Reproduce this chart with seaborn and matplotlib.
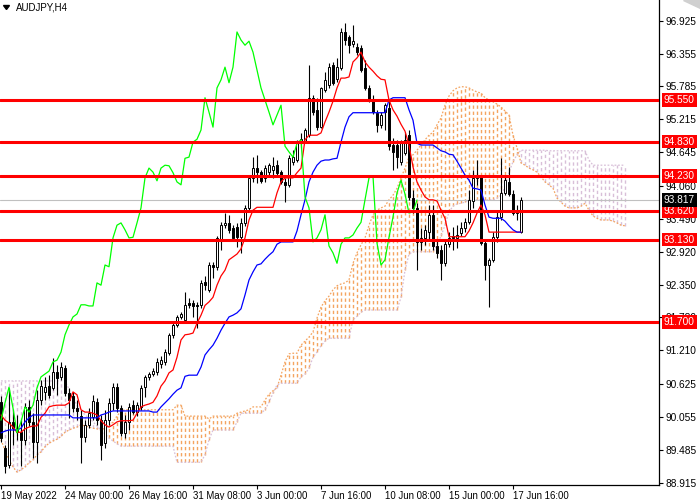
import numpy as np
import matplotlib
matplotlib.use("Agg")
import matplotlib.pyplot as plt
import seaborn as sns
from matplotlib.transforms import blended_transform_factory
from matplotlib.patches import Polygon

sns.set_theme(style="white")
plt.rcParams["font.family"] = ["Liberation Sans", "DejaVu Sans"]

# ---------------- data (AUDJPY H4) ----------------
opens = [90.31, 89.52, 89.22, 89.97, 89.86, 89.79, 89.66, 90.23, 89.97, 89.62,
         90.35, 90.49, 90.59, 90.56, 90.83, 90.75, 90.90, 90.47, 90.42, 90.21,
         90.07, 89.71, 89.92, 90.05, 90.31, 90.00, 89.60, 90.00, 90.30, 90.57,
         90.21, 89.78, 89.97, 90.26, 90.14, 90.23, 90.57, 90.75, 90.80, 90.83,
         90.97, 91.01, 91.16, 91.48, 91.65, 91.79, 91.74, 92.03, 92.03, 92.00,
         92.00, 92.40, 92.26, 92.69, 92.66, 93.12, 93.38, 93.42, 93.33, 93.35,
         93.17, 93.42, 93.68, 94.20, 94.37, 94.30, 94.20, 94.30, 94.34, 94.42,
         94.30, 94.13, 94.08, 94.48, 94.51, 94.82, 94.82, 94.94, 95.59, 95.38,
         95.08, 95.72, 95.81, 96.16, 95.91, 96.11, 96.73, 96.64, 96.52, 96.47,
         96.45, 96.11, 95.76, 95.55, 95.33, 95.12, 95.34, 95.41, 94.77, 94.77,
         94.48, 94.63, 94.94, 93.85, 93.68, 93.09, 93.16, 93.26, 93.56, 93.02,
         92.95, 92.72, 93.05, 93.19, 93.16, 93.24, 93.33, 93.43, 93.80, 94.20,
         94.22, 93.07, 92.69, 92.78, 93.17, 93.52, 93.94, 94.13, 93.92, 93.59,
         93.26]
highs = [90.42, 89.57, 90.56, 90.18, 90.09, 90.00, 90.30, 90.35, 90.12, 90.52,
         90.70, 90.74, 90.78, 91.08, 90.96, 91.01, 90.96, 90.56, 90.49, 90.35,
         90.18, 90.00, 90.21, 90.44, 90.38, 90.09, 90.18, 90.38, 90.64, 90.64,
         90.26, 90.09, 90.30, 90.35, 90.31, 90.61, 90.78, 90.83, 90.90, 91.08,
         91.11, 91.23, 91.51, 91.70, 91.82, 91.87, 92.22, 92.12, 92.08, 92.05,
         92.43, 92.50, 92.74, 92.74, 93.19, 93.44, 93.59, 93.56, 93.38, 93.42,
         93.50, 93.73, 94.23, 94.56, 94.60, 94.34, 94.42, 94.46, 94.56, 94.51,
         94.34, 94.20, 94.60, 94.68, 94.86, 94.98, 95.07, 96.16, 95.64, 95.59,
         95.78, 96.04, 96.19, 96.21, 96.28, 96.80, 96.89, 96.68, 96.85, 96.54,
         96.50, 96.24, 95.81, 95.64, 95.38, 95.34, 95.50, 95.55, 94.89, 94.86,
         94.86, 94.99, 95.03, 93.99, 93.76, 93.33, 93.38, 93.73, 93.73, 93.12,
         93.04, 93.12, 93.26, 93.35, 93.38, 93.44, 93.50, 93.99, 94.34, 94.51,
         94.25, 93.12, 92.81, 93.26, 93.61, 94.54, 94.22, 94.39, 93.99, 93.73,
         93.87]
lows = [89.62, 89.08, 89.17, 89.57, 89.66, 89.21, 89.57, 89.90, 89.34, 89.26,
        90.26, 90.35, 90.38, 90.52, 90.44, 90.70, 90.42, 90.04, 90.14, 90.00,
        89.26, 89.62, 89.86, 90.00, 89.92, 89.31, 89.52, 89.92, 90.18, 90.14,
        89.73, 89.69, 89.83, 90.11, 90.07, 90.18, 90.40, 90.70, 90.77, 90.78,
        90.90, 90.96, 91.13, 91.42, 91.61, 91.75, 91.70, 91.94, 91.79, 91.60,
        91.94, 92.26, 92.22, 92.46, 92.60, 92.95, 93.33, 93.24, 93.12, 93.00,
        92.90, 93.37, 93.64, 94.13, 94.11, 94.11, 94.13, 94.25, 94.20, 94.25,
        94.09, 93.78, 94.04, 94.42, 94.48, 94.72, 94.80, 94.91, 95.29, 95.03,
        95.07, 95.69, 95.76, 95.81, 95.86, 96.07, 96.50, 96.37, 96.47, 96.33,
        96.04, 95.72, 95.52, 95.31, 94.99, 95.07, 95.03, 94.68, 94.34, 94.37,
        94.42, 94.60, 93.82, 93.59, 92.60, 92.95, 93.04, 93.12, 92.95, 92.81,
        92.43, 92.67, 93.00, 92.95, 92.98, 93.19, 93.26, 93.40, 93.68, 94.08,
        93.04, 92.43, 91.96, 92.74, 93.09, 93.47, 93.90, 93.89, 93.56, 93.47,
        93.24]
closes = [89.69, 89.21, 89.97, 89.86, 89.79, 89.66, 90.23, 89.97, 89.62, 90.35,
          90.59, 90.57, 90.44, 90.83, 90.73, 90.92, 90.47, 90.35, 90.21, 90.16,
          89.71, 89.92, 90.12, 90.33, 90.00, 89.57, 90.00, 90.30, 90.57, 90.21,
          89.78, 89.97, 90.23, 90.14, 90.26, 90.56, 90.75, 90.80, 90.85, 91.01,
          91.04, 91.18, 91.48, 91.65, 91.79, 91.84, 92.00, 92.00, 91.98, 91.98,
          92.38, 92.34, 92.69, 92.66, 93.16, 93.38, 93.42, 93.30, 93.16, 93.17,
          93.42, 93.68, 94.20, 94.37, 94.30, 94.15, 94.37, 94.42, 94.41, 94.29,
          94.13, 94.08, 94.54, 94.56, 94.82, 94.87, 95.03, 95.59, 95.34, 95.08,
          95.76, 95.90, 96.12, 95.85, 96.12, 96.73, 96.59, 96.50, 96.57, 96.38,
          96.07, 95.76, 95.55, 95.34, 95.12, 95.29, 95.46, 94.75, 94.65, 94.56,
          94.80, 94.86, 93.87, 93.68, 93.09, 93.16, 93.30, 93.56, 93.02, 92.90,
          92.72, 93.05, 93.16, 93.16, 93.21, 93.33, 93.43, 93.82, 94.20, 94.23,
          93.07, 92.69, 92.78, 93.17, 93.52, 93.94, 94.16, 93.92, 93.59, 93.61,
          93.817]
tenkan = [90.09, 90.00, 89.95, 89.88, 89.79, 89.79, 89.85, 89.88, 89.90, 89.90,
          90.05, 90.12, 90.23, 90.25, 90.26, 90.26, 90.26, 90.30, 90.49, 90.44,
          90.18, 90.14, 90.14, 90.12, 90.09, 89.99, 89.92, 89.88, 89.92, 89.97,
          89.99, 89.99, 89.99, 90.00, 90.12, 90.23, 90.26, 90.28, 90.31, 90.42,
          90.59, 90.68, 90.82, 90.87, 91.09, 91.39, 91.48, 91.49, 91.51, 91.68,
          91.82, 91.99, 92.05, 92.13, 92.34, 92.50, 92.60, 92.78, 92.83, 92.88,
          92.97, 93.16, 93.47, 93.64, 93.69, 93.69, 93.69, 93.69, 93.69, 93.94,
          94.13, 94.20, 94.20, 94.20, 94.29, 94.37, 94.86, 94.94, 94.94, 94.94,
          94.98, 95.17, 95.34, 95.53, 95.76, 95.93, 95.93, 95.95, 96.21, 96.28,
          96.38, 96.21, 96.12, 96.05, 95.97, 95.91, 95.90, 95.55, 95.38, 95.27,
          95.13, 95.01, 94.77, 94.39, 94.13, 93.99, 93.87, 93.82, 93.82, 93.80,
          93.64, 93.50, 93.18, 93.18, 93.18, 93.18, 93.18, 93.28, 93.42, 93.59,
          93.73, 93.56, 93.26, 93.26, 93.26, 93.26, 93.26, 93.26, 93.26, 93.26,
          93.26]
kijun = [89.78, 89.81, 89.83, 89.83, 89.83, 89.86, 89.97, 90.04, 90.09, 90.09,
         90.09, 90.09, 90.09, 90.09, 90.09, 90.09, 90.09, 90.09, 90.04, 90.04,
         90.04, 90.04, 90.04, 90.04, 90.04, 90.09, 90.11, 90.14, 90.16, 90.16,
         90.16, 90.16, 90.16, 90.16, 90.16, 90.16, 90.16, 90.16, 90.14, 90.14,
         90.23, 90.30, 90.37, 90.45, 90.52, 90.56, 90.76, 90.78, 90.78, 90.78,
         90.92, 91.13, 91.22, 91.30, 91.42, 91.56, 91.68, 91.79, 91.82, 91.86,
         91.93, 92.17, 92.43, 92.57, 92.69, 92.71, 92.79, 92.86, 92.92, 93.05,
         93.09, 93.09, 93.09, 93.09, 93.28, 93.56, 93.82, 94.13, 94.30, 94.42,
         94.49, 94.51, 94.51, 94.53, 94.54, 94.82, 95.08, 95.26, 95.33, 95.33,
         95.33, 95.33, 95.33, 95.33, 95.33, 95.33, 95.33, 95.55, 95.59, 95.59,
         95.59, 95.59, 95.38, 95.20, 94.80, 94.77, 94.77, 94.77, 94.77, 94.72,
         94.67, 94.65, 94.61, 94.60, 94.49, 94.37, 94.25, 94.16, 94.02, 94.01,
         93.99, 93.73, 93.52, 93.50, 93.50, 93.50, 93.45, 93.37, 93.30, 93.26,
         93.26]
span_a = [89.66, 89.48, 89.31, 89.19, 89.10, 89.14, 89.19, 89.26, 89.31, 89.40,
          89.45, 89.54, 89.60, 89.64, 89.67, 89.72, 89.79, 89.83, 89.86, 89.88,
          89.92, 89.90, 89.88, 89.86, 89.85, 89.83, 89.86, 89.90, 89.97, 90.07,
          90.16, 90.18, 90.18, 90.18, 90.18, 90.18, 90.18, 90.18, 90.18, 90.18,
          90.18, 90.18, 90.18, 90.18, 90.26, 90.26, 90.07, 90.07, 90.07, 90.07,
          90.07, 90.07, 90.02, 90.07, 90.07, 90.07, 90.07, 90.07, 90.07, 90.12,
          90.14, 90.16, 90.18, 90.23, 90.23, 90.23, 90.35, 90.45, 90.51, 90.56,
          90.78, 91.01, 91.15, 91.16, 91.16, 91.30, 91.37, 91.44, 91.53, 91.77,
          91.96, 92.07, 92.15, 92.26, 92.33, 92.36, 92.38, 92.43, 92.72, 92.90,
          93.04, 93.16, 93.38, 93.56, 93.64, 93.68, 93.71, 93.82, 93.90, 94.02,
          94.20, 94.37, 94.56, 94.60, 94.68, 94.77, 94.86, 94.94, 94.99, 95.12,
          95.24, 95.46, 95.62, 95.71, 95.76, 95.78, 95.78, 95.76, 95.72, 95.69,
          95.67, 95.59, 95.55, 95.52, 95.48, 95.43, 95.36, 95.29, 94.94, 94.72,
          94.46, 94.42, 94.37, 94.34, 94.30, 94.22, 94.13, 94.08, 94.02, 93.85,
          93.78, 93.71, 93.68, 93.68, 93.68, 93.71, 93.76, 93.64, 93.54, 93.50,
          93.47, 93.47, 93.47, 93.45, 93.42, 93.38, 93.37]
span_b = [90.68, 90.68, 90.68, 90.68, 90.68, 90.68, 90.68, 90.68, 90.68, 90.68,
          90.68, 90.68, 90.68, 90.68, 90.68, 90.68, 90.68, 90.54, 90.38, 90.26,
          90.18, 90.09, 90.04, 89.97, 89.90, 89.83, 89.76, 89.69, 89.64, 89.59,
          89.55, 89.55, 89.55, 89.55, 89.55, 89.55, 89.55, 89.55, 89.55, 89.55,
          89.55, 89.55, 89.55, 89.55, 89.27, 89.27, 89.27, 89.27, 89.27, 89.27,
          89.27, 89.40, 89.66, 89.83, 89.83, 89.83, 89.83, 89.83, 89.83, 89.97,
          90.12, 90.12, 90.12, 90.12, 90.12, 90.12, 90.18, 90.31, 90.47, 90.61,
          90.64, 90.64, 90.64, 90.64, 90.64, 90.75, 90.80, 90.90, 91.09, 91.18,
          91.29, 91.37, 91.42, 91.42, 91.42, 91.42, 91.42, 91.42, 91.74, 91.80,
          91.87, 91.91, 91.91, 91.91, 91.91, 91.91, 91.91, 91.91, 91.91, 91.91,
          92.13, 92.60, 92.88, 92.92, 92.92, 92.92, 92.92, 92.92, 92.92, 93.04,
          93.19, 93.38, 93.61, 93.71, 93.75, 93.76, 93.78, 93.82, 93.82, 93.82,
          93.82, 93.82, 93.82, 93.82, 93.85, 93.90, 94.04, 94.30, 94.48, 94.60,
          94.68, 94.68, 94.68, 94.68, 94.68, 94.68, 94.68, 94.67, 94.67, 94.67,
          94.67, 94.67, 94.67, 94.67, 94.67, 94.67, 94.67, 94.51, 94.42, 94.42,
          94.42, 94.42, 94.42, 94.42, 94.42, 94.42, 94.42]

level_values = [95.55, 94.83, 94.23, 93.62, 93.13, 91.70]
level_labels = ["95.550", "94.830", "94.230", "93.620", "93.130", "91.700"]
last_price = 93.817
last_label = "93.817"
ytick_values = [96.925, 96.355, 95.785, 95.215, 94.645, 94.060, 93.490,
                92.920, 92.350, 91.780, 91.210, 90.625, 90.055, 89.485, 88.915]
ytick_labels = ["96.925", "96.355", "95.785", "95.215", "94.645", "94.060", "93.490",
                "92.920", "92.350", "91.780", "91.210", "90.625", "90.055", "89.485", "88.915"]
xtick_bars = [0, 16, 32, 48, 64, 80, 96, 112, 128]
xtick_labels = ["19 May 2022", "24 May 00:00", "26 May 16:00", "31 May 08:00",
                "3 Jun 00:00", "7 Jun 16:00", "10 Jun 08:00", "15 Jun 00:00",
                "17 Jun 16:00"]
chikou_shift = 26

# ---------------- figure ----------------
W, H = 700, 500
fig = plt.figure(figsize=(W / 100, H / 100), dpi=100)
ax = fig.add_axes([0, 15 / H, 659 / W, 485 / H])
ax.set_facecolor("white")

o = np.array(opens); h = np.array(highs); l = np.array(lows); c = np.array(closes)
n = len(c)
bars = np.arange(n)
cloud_x = np.arange(len(span_a))
sa = np.array(span_a); sb = np.array(span_b)

# Ichimoku cloud: dashed histogram + dotted edges
sandy, thistle = "#F4A460", "#D8BFD8"
for xi, a, b in zip(cloud_x, sa, sb):
    colr = sandy if a >= b else thistle
    ax.plot([xi, xi], [min(a, b), max(a, b)], color=colr, linewidth=1.0,
            linestyle=(0, (2.4, 2.0)), dash_capstyle="butt", zorder=1)
ax.plot(cloud_x, sa, color=sandy, linestyle=(0, (1.4, 1.4)), linewidth=0.9, zorder=1.2)
ax.plot(cloud_x, sb, color=thistle, linestyle=(0, (1.4, 1.4)), linewidth=0.9, zorder=1.2)

# current price line
ax.axhline(last_price, color="#C0C0C0", linewidth=0.8, zorder=1.5)

# candles
up = c >= o
ax.vlines(bars, l, h, colors="black", linewidth=0.8, zorder=3)
body_lo = np.minimum(o, c)
body_h = np.maximum(np.abs(c - o), 0.004)
ax.bar(bars, body_h, bottom=body_lo, width=0.62,
       color=np.where(up, "white", "black"), edgecolor="black", linewidth=0.7, zorder=3.2)

# Ichimoku lines
sns.lineplot(x=bars, y=tenkan, ax=ax, color="#FF0000", linewidth=0.9, zorder=4, estimator=None)
sns.lineplot(x=bars, y=kijun, ax=ax, color="#0000FF", linewidth=0.9, zorder=4, estimator=None)
sns.lineplot(x=bars[:n - chikou_shift], y=c[chikou_shift:], ax=ax, color="#00FF00",
             linewidth=0.9, zorder=4, estimator=None)

# horizontal levels
for v in level_values:
    ax.axhline(v, color="#FF0000", linewidth=2.2, zorder=5)

# axes
ax.set_xlim(-0.25, 164.5)
ax.set_ylim(88.876, 97.284)
for s in ["top", "left"]:
    ax.spines[s].set_visible(False)
for s in ["right", "bottom"]:
    ax.spines[s].set_color("black")
    ax.spines[s].set_linewidth(0.9)
ax.yaxis.tick_right()
ax.set_yticks(ytick_values)
ax.set_yticklabels(ytick_labels)
ax.set_xticks(xtick_bars)
ax.set_xticklabels(xtick_labels)
ax.tick_params(axis="y", length=3, width=0.8, pad=1.5, labelsize=7.3, colors="black",
               direction="out", right=True, left=False)
ax.tick_params(axis="x", length=3, width=0.8, pad=1.5, labelsize=6.9, colors="black",
               direction="out", bottom=True)
for lab in ax.get_xticklabels():
    lab.set_horizontalalignment("left")
ax.set_xlabel(""); ax.set_ylabel("")
ax.grid(False)

# right-side price labels
tr = blended_transform_factory(ax.transAxes, ax.transData)
for v, t in zip(level_values, level_labels):
    ax.text(1.0 + 5 / 659, v, t, transform=tr, ha="left", va="center", fontsize=7.3,
            color="white", zorder=10, clip_on=False,
            bbox=dict(boxstyle="square,pad=0.18", fc="#FF0000", ec="none"))
ax.text(1.0 + 5 / 659, last_price, last_label, transform=tr, ha="left", va="center",
        fontsize=7.3, color="white", zorder=10, clip_on=False,
        bbox=dict(boxstyle="square,pad=0.18", fc="black", ec="none"))

# title with small triangle
fig.patches.append(Polygon([[3.5 / W, 1 - 5.5 / H], [9.5 / W, 1 - 5.5 / H], [6.5 / W, 1 - 9.5 / H]],
                           closed=True, transform=fig.transFigure, color="black"))
fig.text(16 / W, 1 - 7.5 / H, "AUDJPY,H4", fontsize=7, color="black", ha="left", va="center")
# chart shift marker
fig.patches.append(Polygon([[683 / W, 1.0], [700 / W, 1.0], [700 / W, 1 - 8 / H]],
                           closed=True, transform=fig.transFigure, color="#D0D0D0"))

fig.savefig("out.png", dpi=100)
